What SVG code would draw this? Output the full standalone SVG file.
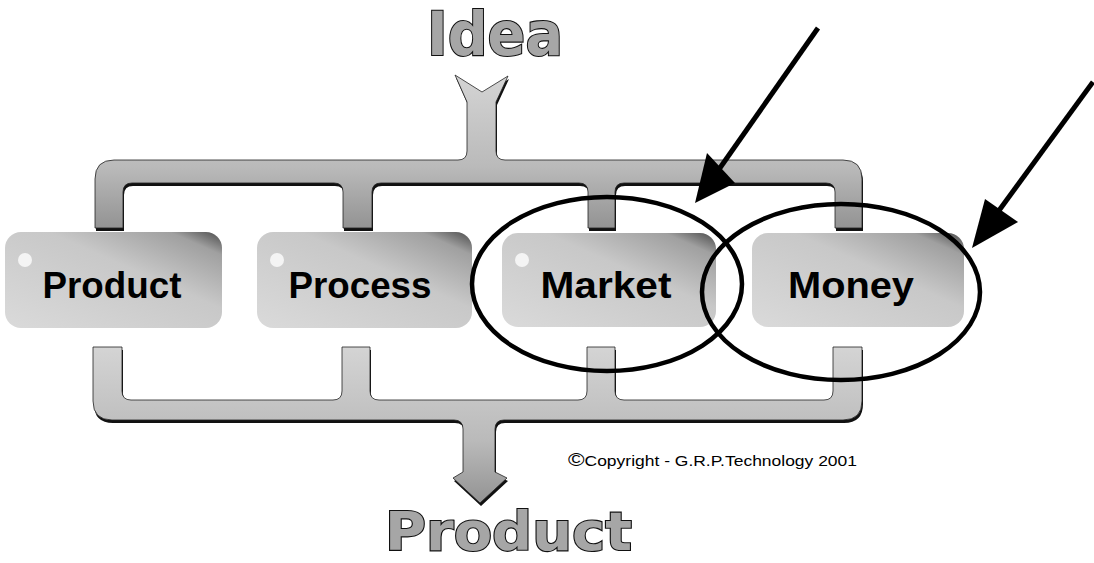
<svg xmlns="http://www.w3.org/2000/svg" width="1094" height="563" viewBox="0 0 1094 563">
<defs>
<style>
.pipe-shadow{fill:#111;}
.pipe{fill:url(#pipeGrad);stroke:#222;stroke-width:0.8;}
.box{fill:url(#boxGrad);}
.dot{fill:#f4f4f4;}
.label{font-family:"Liberation Sans","DejaVu Sans",Arial,sans-serif;font-weight:bold;font-size:36px;fill:#000;text-anchor:middle;}
.title{font-family:"DejaVu Sans","Liberation Sans",sans-serif;font-weight:bold;fill:#a6a6a6;stroke:#111;stroke-width:2.2;paint-order:stroke;}
.ring{fill:none;stroke:#000;stroke-width:4.5;}
.arrow-line{stroke:#000;stroke-width:5;fill:none;}
.arrow-head{fill:#000;}
.copy{font-family:"Liberation Sans",Arial,sans-serif;font-size:14px;fill:#000;}
</style>
<linearGradient id="pipeGrad" x1="0" y1="0" x2="0" y2="1">
<stop offset="0" stop-color="#d4d4d4"/>
<stop offset="0.6" stop-color="#bababa"/>
<stop offset="1" stop-color="#939393"/>
</linearGradient>
<linearGradient id="boxGrad" x1="0" y1="1" x2="1" y2="0">
<stop offset="0" stop-color="#dadada"/>
<stop offset="0.6" stop-color="#c8c8c8"/>
<stop offset="0.88" stop-color="#a0a0a0"/>
<stop offset="1" stop-color="#4a4a4a"/>
</linearGradient>
</defs>

<g id="connectors">
<g id="pipe-top">
<path class="pipe-shadow" transform="translate(1,3)" d="M95,228 V179 Q95,160 114,160 H458 Q467,160 467,151 V102 L455,75 L482,92 L508,76 L496,102 V151 Q496,160 505,160 H843 Q862,160 862,179 V228 H835 V192 Q835,183 826,183 H624 Q615,183 615,192 V228 H588 V192 Q588,183 579,183 H381 Q372,183 372,192 V228 H343 V192 Q343,183 334,183 H132 Q123,183 123,192 V228 Z"/>
<path class="pipe" d="M95,228 V179 Q95,160 114,160 H458 Q467,160 467,151 V102 L455,75 L482,92 L508,76 L496,102 V151 Q496,160 505,160 H843 Q862,160 862,179 V228 H835 V192 Q835,183 826,183 H624 Q615,183 615,192 V228 H588 V192 Q588,183 579,183 H381 Q372,183 372,192 V228 H343 V192 Q343,183 334,183 H132 Q123,183 123,192 V228 Z"/>
</g>
<g id="pipe-bottom">
<path class="pipe-shadow" transform="translate(1,3)" d="M93,347 H122 V391 Q122,400 131,400 H333 Q342,400 342,391 V347 H370 V391 Q370,400 379,400 H578 Q587,400 587,391 V347 H615 V391 Q615,400 624,400 H824 Q833,400 833,391 V347 H862 V401 Q862,420 843,420 H504 Q495,420 495,429 V472 L507,478 L480,503 L453,478 L463,472 V429 Q463,420 454,420 H112 Q93,420 93,401 Z"/>
<path class="pipe" d="M93,347 H122 V391 Q122,400 131,400 H333 Q342,400 342,391 V347 H370 V391 Q370,400 379,400 H578 Q587,400 587,391 V347 H615 V391 Q615,400 624,400 H824 Q833,400 833,391 V347 H862 V401 Q862,420 843,420 H504 Q495,420 495,429 V472 L507,478 L480,503 L453,478 L463,472 V429 Q463,420 454,420 H112 Q93,420 93,401 Z"/>
</g>
</g>

<g id="node-idea">
<text class="title" x="427" y="55" font-size="60" textLength="136" lengthAdjust="spacingAndGlyphs">Idea</text>
</g>

<g id="node-product">
<rect class="box" x="5" y="232" width="217" height="96" rx="16"/>
<circle class="dot" cx="25" cy="260" r="7"/>
<text class="label" x="112" y="298" textLength="139" lengthAdjust="spacingAndGlyphs">Product</text>
</g>
<g id="node-process">
<rect class="box" x="257" y="232" width="215" height="96" rx="16"/>
<circle class="dot" cx="277" cy="260" r="7"/>
<text class="label" x="360" y="298" textLength="143" lengthAdjust="spacingAndGlyphs">Process</text>
</g>
<g id="node-market">
<rect class="box" x="502" y="233" width="214" height="94" rx="16"/>
<circle class="dot" cx="522" cy="260" r="7"/>
<text class="label" x="606" y="298" textLength="131" lengthAdjust="spacingAndGlyphs">Market</text>
</g>
<g id="node-money">
<rect class="box" x="752" y="233" width="212" height="94" rx="16"/>
<text class="label" x="851" y="298" textLength="126" lengthAdjust="spacingAndGlyphs">Money</text>
</g>

<g id="highlights">
<ellipse class="ring" cx="607" cy="284" rx="135" ry="87"/>
<ellipse class="ring" cx="841" cy="292" rx="139" ry="88"/>
</g>

<g id="pointer-arrows">
<line class="arrow-line" x1="818" y1="28" x2="715" y2="175"/>
<polygon class="arrow-head" points="695,203 707,153 735,183"/>
<line class="arrow-line" x1="1093" y1="82" x2="995" y2="216"/>
<polygon class="arrow-head" points="972,248 985,199 1018,222"/>
</g>

<g id="copyright">
<text class="copy" x="568" y="466" textLength="289" lengthAdjust="spacingAndGlyphs"><tspan font-size="18">©</tspan>Copyright - G.R.P.Technology 2001</text>
</g>

<g id="node-product-out">
<text class="title" x="385" y="550" font-size="54" textLength="247" lengthAdjust="spacingAndGlyphs">Product</text>
</g>
</svg>
